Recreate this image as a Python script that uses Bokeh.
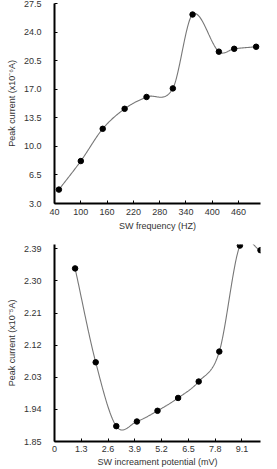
import numpy as np
from bokeh.plotting import figure
from bokeh.layouts import column
from bokeh.models import FixedTicker, NumeralTickFormatter, Range1d
from bokeh.embed import file_html
from bokeh.resources import INLINE

# Top chart data
freq = [50, 100, 150, 200, 250, 310, 355, 415, 450, 500]
current_freq = [4.7, 8.2, 12.15, 14.6, 16.05, 17.1, 26.15, 21.6, 21.95, 22.2]
freq_ticks = [40, 100, 160, 220, 280, 340, 400, 460]
freq_yticks = [3.0, 6.5, 10.0, 13.5, 17.0, 20.5, 24.0, 27.5]

# Bottom chart data
potential = [1.0, 2.0, 3.0, 4.0, 5.0, 6.0, 7.0, 8.0, 9.0, 10.0]
current_pot = [2.335, 2.072, 1.893, 1.906, 1.936, 1.972, 2.018, 2.102, 2.399, 2.386]
pot_ticks = [0, 1.3, 2.6, 3.9, 5.2, 6.5, 7.8, 9.1]
pot_yticks = [1.85, 1.94, 2.03, 2.12, 2.21, 2.30, 2.39]


def smooth_curve(x, y, per_seg=40):
    """Catmull-Rom style cubic Hermite curve through the data points."""
    x = np.asarray(x, float)
    y = np.asarray(y, float)
    m = len(x)
    d = np.zeros(m)
    d[0] = (y[1] - y[0]) / (x[1] - x[0])
    d[-1] = (y[-1] - y[-2]) / (x[-1] - x[-2])
    for i in range(1, m - 1):
        d[i] = (y[i + 1] - y[i - 1]) / (x[i + 1] - x[i - 1])
    xs_all, ys_all = [], []
    for i in range(m - 1):
        h = x[i + 1] - x[i]
        t = np.linspace(0, 1, per_seg, endpoint=(i == m - 2))
        h00 = 2 * t ** 3 - 3 * t ** 2 + 1
        h10 = t ** 3 - 2 * t ** 2 + t
        h01 = -2 * t ** 3 + 3 * t ** 2
        h11 = t ** 3 - t ** 2
        xs_all.append(x[i] + t * h)
        ys_all.append(h00 * y[i] + h10 * h * d[i] + h01 * y[i + 1] + h11 * h * d[i + 1])
    return np.concatenate(xs_all), np.concatenate(ys_all)


FONT = "Liberation Sans"


def style(p, xlabel, ylabel):
    p.outline_line_color = None
    p.grid.grid_line_color = None
    p.background_fill_color = "white"
    p.border_fill_color = "white"
    for ax in (p.xaxis[0], p.yaxis[0]):
        ax.axis_line_width = 2
        ax.axis_line_color = "black"
        ax.major_tick_in = 3
        ax.major_tick_out = 0
        ax.minor_tick_line_color = None
        ax.major_tick_line_color = "black"
        ax.major_tick_line_width = 1
        ax.major_label_text_font = FONT
        ax.major_label_text_font_size = "9px"
        ax.major_label_text_color = "#333333"
        ax.axis_label_text_font = FONT
        ax.axis_label_text_font_size = "9px"
        ax.axis_label_text_font_style = "normal"
        ax.axis_label_text_color = "#333333"
    p.xaxis.axis_label = xlabel
    p.yaxis.axis_label = ylabel
    p.xaxis.major_label_standoff = 5
    p.xaxis.axis_label_standoff = 3
    p.yaxis.major_label_standoff = 13
    p.yaxis.axis_label_standoff = 4


# Top figure
p1 = figure(width=277, height=236, output_backend="svg", toolbar_location=None,
            x_range=Range1d(40, 510), y_range=Range1d(3.0, 27.5),
            min_border_top=3, min_border_bottom=33, min_border_left=53,
            min_border_right=17)
style(p1, "SW frequency (HZ)", "Peak current (x10\u207b\u2076A)")
p1.xaxis.ticker = FixedTicker(ticks=freq_ticks)
p1.yaxis.ticker = FixedTicker(ticks=freq_yticks)
p1.yaxis.formatter = NumeralTickFormatter(format="0.0")
sx, sy = smooth_curve(freq, current_freq)
p1.line(sx, sy, line_color="#777777", line_width=1.1)
p1.scatter(freq, current_freq, size=5.5, color="black")

# Bottom figure
p2 = figure(width=277, height=233, output_backend="svg", toolbar_location=None,
            x_range=Range1d(0, 10.0), y_range=Range1d(1.85, 2.402),
            min_border_top=8, min_border_bottom=28, min_border_left=54,
            min_border_right=4)
style(p2, "SW increament potential (mV)", "Peak current (x10\u207b\u2075A)")
p2.xaxis.ticker = FixedTicker(ticks=pot_ticks)
p2.yaxis.ticker = FixedTicker(ticks=pot_yticks)
p2.yaxis.formatter = NumeralTickFormatter(format="0.00")
p2.xaxis.formatter = NumeralTickFormatter(format="0.[0]")
p2.xaxis.axis_label_standoff = 2
p2.xaxis.major_label_standoff = 4
sx2, sy2 = smooth_curve(potential, current_pot)
p2.line(sx2, sy2, line_color="#777777", line_width=1.1)
p2.scatter(potential, current_pot, size=5.5, color="black")

layout = column(p1, p2, spacing=0)
open("out.html", "w").write(file_html(layout, INLINE))
